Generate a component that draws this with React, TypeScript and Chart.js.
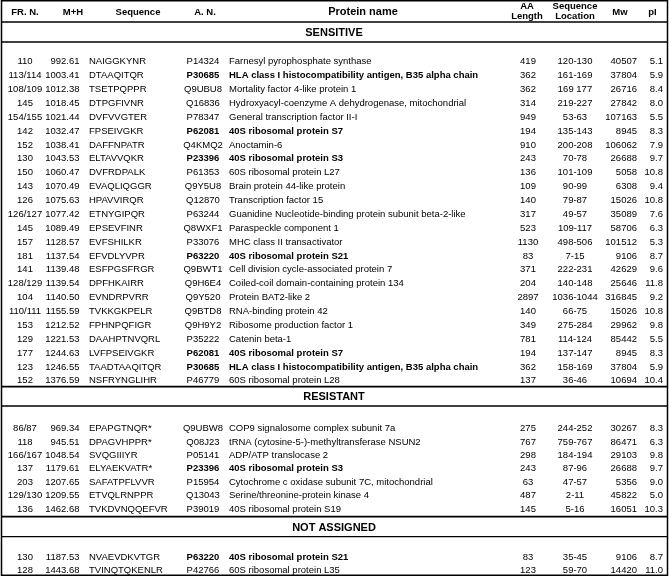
import React, { useEffect, useRef } from 'react';
import { Chart, registerables } from 'chart.js';

Chart.register(...registerables);

// ---------- data ----------
const sectionTitles = ['SENSITIVE', 'RESISTANT', 'NOT ASSIGNED'];
const sectionSizes = [24, 7, 2];

const frNumbers = [
  '110', '113/114', '108/109', '145', '154/155', '142', '152', '130', '150', '143', '126', '126/127',
  '145', '157', '181', '141', '128/129', '104', '110/111', '153', '129', '177', '123', '152',
  '86/87', '118', '166/167', '137', '203', '129/130', '136',
  '130', '128',
];

const mhValues = [
  992.61, 1003.41, 1012.38, 1018.45, 1021.44, 1032.47, 1038.41, 1043.53, 1060.47, 1070.49, 1075.63, 1077.42,
  1089.49, 1128.57, 1137.54, 1139.48, 1139.54, 1140.5, 1155.59, 1212.52, 1221.53, 1244.63, 1246.55, 1376.59,
  969.34, 945.51, 1048.54, 1179.61, 1207.65, 1209.55, 1462.68,
  1187.53, 1443.68,
];

const sequences = [
  'NAIGGKYNR', 'DTAAQITQR', 'TSETPQPPR', 'DTPGFIVNR', 'DVFVVGTER', 'FPSEIVGKR', 'DAFFNPATR', 'ELTAVVQKR',
  'DVFRDPALK', 'EVAQLIQGGR', 'HPAVVIRQR', 'ETNYGIPQR', 'EPSEVFINR', 'EVFSHILKR', 'EFVDLYVPR', 'ESFPGSFRGR',
  'DPFHKAIRR', 'EVNDRPVRR', 'TVKKGKPELR', 'FPHNPQFIGR', 'DAAHPTNVQRL', 'LVFPSEIVGKR', 'TAADTAAQITQR', 'NSFRYNGLIHR',
  'EPAPGTNQR*', 'DPAGVHPPR*', 'SVQGIIIYR', 'ELYAEKVATR*', 'SAFATPFLVVR', 'ETVQLRNPPR', 'TVKDVNQQEFVR',
  'NVAEVDKVTGR', 'TVINQTQKENLR',
];

const accessions = [
  'P14324', 'P30685', 'Q9UBU8', 'Q16836', 'P78347', 'P62081', 'Q4KMQ2', 'P23396', 'P61353', 'Q9Y5U8', 'Q12870', 'P63244',
  'Q8WXF1', 'P33076', 'P63220', 'Q9BWT1', 'Q9H6E4', 'Q9Y520', 'Q9BTD8', 'Q9H9Y2', 'P35222', 'P62081', 'P30685', 'P46779',
  'Q9UBW8', 'Q08J23', 'P05141', 'P23396', 'P15954', 'Q13043', 'P39019',
  'P63220', 'P42766',
];

const proteinNames = [
  'Farnesyl pyrophosphate synthase',
  'HLA class I histocompatibility antigen, B35 alpha chain',
  'Mortality factor 4-like protein 1',
  'Hydroxyacyl-coenzyme A dehydrogenase, mitochondrial',
  'General transcription factor II-I',
  '40S ribosomal protein S7',
  'Anoctamin-6',
  '40S ribosomal protein S3',
  '60S ribosomal protein L27',
  'Brain protein 44-like protein',
  'Transcription factor 15',
  'Guanidine Nucleotide-binding protein subunit beta-2-like',
  'Paraspeckle component 1',
  'MHC class II transactivator',
  '40S ribosomal protein S21',
  'Cell division cycle-associated protein 7',
  'Coiled-coil domain-containing protein 134',
  'Protein BAT2-like 2',
  'RNA-binding protein 42',
  'Ribosome production factor 1',
  'Catenin beta-1',
  '40S ribosomal protein S7',
  'HLA class I histocompatibility antigen, B35 alpha chain',
  '60S ribosomal protein L28',
  'COP9 signalosome complex subunit 7a',
  'tRNA (cytosine-5-)-methyltransferase NSUN2',
  'ADP/ATP translocase 2',
  '40S ribosomal protein S3',
  'Cytochrome c oxidase subunit 7C, mitochondrial',
  'Serine/threonine-protein kinase 4',
  '40S ribosomal protein S19',
  '40S ribosomal protein S21',
  '60S ribosomal protein L35',
];

const aaLengths = [
  419, 362, 362, 314, 949, 194, 910, 243, 136, 109, 140, 317,
  523, 1130, 83, 371, 204, 2897, 140, 349, 781, 194, 362, 137,
  275, 767, 298, 243, 63, 487, 145,
  83, 123,
];

const seqLocations = [
  '120-130', '161-169', '169 177', '219-227', '53-63', '135-143', '200-208', '70-78', '101-109', '90-99', '79-87', '49-57',
  '109-117', '498-506', '7-15', '222-231', '140-148', '1036-1044', '66-75', '275-284', '114-124', '137-147', '158-169', '36-46',
  '244-252', '759-767', '184-194', '87-96', '47-57', '2-11', '5-16',
  '35-45', '59-70',
];

const mwValues = [
  40507, 37804, 26716, 27842, 107163, 8945, 106062, 26688, 5058, 6308, 15026, 35089,
  58706, 101512, 9106, 42629, 25646, 316845, 15026, 29962, 85442, 8945, 37804, 10694,
  30267, 86471, 29103, 26688, 5356, 45822, 16051,
  9106, 14420,
];

const piValues = [
  5.1, 5.9, 8.4, 8.0, 5.5, 8.3, 7.9, 9.7, 10.8, 9.4, 10.8, 7.6,
  6.3, 5.3, 8.7, 9.6, 11.8, 9.2, 10.8, 9.8, 5.5, 8.3, 5.9, 10.4,
  8.3, 6.3, 9.8, 9.7, 9.0, 5.0, 10.3,
  8.7, 11.0,
];

// accessions printed in bold in the table
const highlightedAccessions = ['P30685', 'P62081', 'P23396', 'P63220'];

// ---------- layout (positions / styles, not data) ----------
const W = 669;
const H = 576;
const FONT = '"Liberation Sans", Arial, sans-serif';
const BODY_SIZE = 9.5;

const sectionLayout = [
  { lineTop: 22, lineBottom: 42, firstRow: 61.6, step: 13.88 },
  { lineTop: 386.6, lineBottom: 406, firstRow: 428.5, step: 13.45 },
  { lineTop: 516.6, lineBottom: 536.6, firstRow: 557.8, step: 13 },
];

type Col = { key: string; x: number; align: CanvasTextAlign };
const cols: Col[] = [
  { key: 'fr', x: 25, align: 'center' },
  { key: 'mh', x: 79.5, align: 'right' },
  { key: 'seq', x: 89, align: 'left' },
  { key: 'an', x: 203, align: 'center' },
  { key: 'name', x: 229, align: 'left' },
  { key: 'aa', x: 528, align: 'center' },
  { key: 'loc', x: 575, align: 'center' },
  { key: 'mw', x: 637, align: 'right' },
  { key: 'pi', x: 663, align: 'right' },
];

const headers: { lines: string[]; x: number; size: number }[] = [
  { lines: ['FR. N.'], x: 25, size: 9.5 },
  { lines: ['M+H'], x: 73, size: 9.5 },
  { lines: ['Sequence'], x: 138, size: 9.5 },
  { lines: ['A. N.'], x: 205, size: 9.5 },
  { lines: ['Protein name'], x: 363, size: 11 },
  { lines: ['AA', 'Length'], x: 527, size: 9.5 },
  { lines: ['Sequence', 'Location'], x: 575, size: 9.5 },
  { lines: ['Mw'], x: 620, size: 9.5 },
  { lines: ['pI'], x: 652.5, size: 9.5 },
];

function cellText(key: string, i: number): string {
  switch (key) {
    case 'fr': return frNumbers[i];
    case 'mh': return mhValues[i].toFixed(2);
    case 'seq': return sequences[i];
    case 'an': return accessions[i];
    case 'name': return proteinNames[i];
    case 'aa': return String(aaLengths[i]);
    case 'loc': return seqLocations[i];
    case 'mw': return String(mwValues[i]);
    case 'pi': return piValues[i].toFixed(1);
  }
  return '';
}

export default function App() {
  const ref = useRef<HTMLCanvasElement | null>(null);

  useEffect(() => {
    document.body.style.margin = '0';
    document.body.style.background = '#ffffff';
    const canvas = ref.current;
    if (!canvas) return;

    // row anchor points (y value of each row), placed through the y scale
    const rowY: number[] = [];
    let idx = 0;
    sectionSizes.forEach((n, s) => {
      for (let r = 0; r < n; r++) {
        rowY[idx++] = sectionLayout[s].firstRow + r * sectionLayout[s].step;
      }
    });

    const tablePlugin = {
      id: 'tableDraw',
      afterDraw(chart: any) {
        const ctx: CanvasRenderingContext2D = chart.ctx;
        const xs = chart.scales.x;
        const ys = chart.scales.y;
        const px = (v: number) => xs.getPixelForValue(v);
        const py = (v: number) => ys.getPixelForValue(v);
        ctx.save();
        ctx.fillStyle = '#ffffff';
        ctx.fillRect(0, 0, W, H);
        ctx.strokeStyle = '#000';
        ctx.fillStyle = '#000';

        const hline = (y: number, w: number) => {
          ctx.lineWidth = w;
          ctx.beginPath();
          ctx.moveTo(px(1.5), py(y));
          ctx.lineTo(px(667.5), py(y));
          ctx.stroke();
        };

        // outer frame
        ctx.lineWidth = 1.5;
        ctx.strokeRect(px(1.5), py(0.75), px(667.5) - px(1.5), py(575.25) - py(0.75));

        // header
        ctx.textBaseline = 'middle';
        headers.forEach((h) => {
          ctx.font = `bold ${h.size}px ${FONT}`;
          ctx.textAlign = 'center';
          if (h.lines.length === 1) {
            ctx.fillText(h.lines[0], px(h.x), py(12.3));
          } else {
            ctx.fillText(h.lines[0], px(h.x), py(6.8));
            ctx.fillText(h.lines[1], px(h.x), py(16));
          }
        });

        // sections
        let i = 0;
        sectionSizes.forEach((n, s) => {
          const L = sectionLayout[s];
          hline(L.lineTop, 1.7);
          hline(L.lineBottom, 1.3);
          ctx.font = `bold 11px ${FONT}`;
          ctx.textAlign = 'center';
          ctx.fillText(sectionTitles[s], px(334), py((L.lineTop + L.lineBottom) / 2 + 1));
          for (let r = 0; r < n; r++, i++) {
            const bold = highlightedAccessions.includes(accessions[i]);
            cols.forEach((c) => {
              const isBold = bold && (c.key === 'an' || c.key === 'name');
              ctx.font = `${isBold ? 'bold ' : ''}${BODY_SIZE}px ${FONT}`;
              ctx.textAlign = c.align;
              ctx.fillText(cellText(c.key, i), px(c.x), py(rowY[i]));
            });
          }
        });
        ctx.restore();
      },
    };

    const chart = new Chart(canvas, {
      type: 'scatter',
      data: {
        datasets: [
          {
            data: rowY.map((y) => ({ x: 0, y })),
            pointRadius: 0,
            pointHoverRadius: 0,
          },
        ],
      },
      options: {
        animation: false,
        responsive: false,
        devicePixelRatio: 1,
        events: [],
        layout: { padding: 0 },
        plugins: { legend: { display: false }, tooltip: { enabled: false }, title: { display: false } },
        scales: {
          x: { type: 'linear', display: false, min: 0, max: W },
          y: { type: 'linear', display: false, min: 0, max: H, reverse: true },
        },
      },
      plugins: [tablePlugin],
    });
    return () => chart.destroy();
  }, []);

  return (
    <div style={{ width: W, height: H, overflow: 'hidden' }}>
      <canvas ref={ref} width={W} height={H} style={{ display: 'block', width: W, height: H }} />
    </div>
  );
}
